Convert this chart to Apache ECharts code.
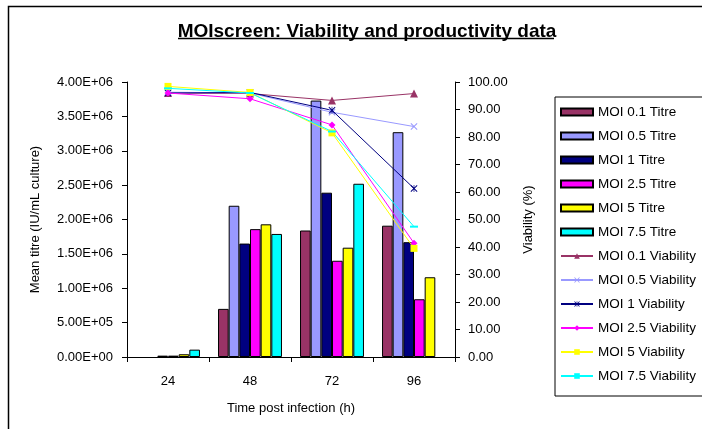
<!DOCTYPE html>
<html>
<head>
<meta charset="utf-8">
<script src="https://cdn.jsdelivr.net/npm/echarts@6/dist/echarts.min.js"></script>
<style>
html,body{margin:0;padding:0;background:#fff;}
#chart{width:702px;height:429px;}
</style>
</head>
<body>
<div id="chart"></div>
<script>
var categories = ['24', '48', '72', '96'];

var titreMOI01 = [null, 700000, 1840000, 1910000];
var titreMOI05 = [null, 2200000, 3730000, 3270000];
var titreMOI1  = [20000, 1650000, 2390000, 1670000];
var titreMOI25 = [20000, 1860000, 1400000, 840000];
var titreMOI5  = [40000, 1930000, 1590000, 1160000];
var titreMOI75 = [107000, 1790000, 2520000, null];

var viabMOI01 = [96.0, 95.8, 93.3, 95.8];
var viabMOI05 = [96.3, 96.0, 89.0, 83.8];
var viabMOI1  = [96.0, 96.2, 89.7, 61.3];
var viabMOI25 = [96.0, 93.9, 84.4, 41.4];
var viabMOI5  = [98.4, 96.2, 81.5, 39.5];
var viabMOI75 = [97.7, 96.0, 82.0, 47.4];

var titleText = 'MOIscreen: Viability and productivity data';
var xName = 'Time post infection (h)';
var yLeftName = 'Mean titre (IU/mL culture)';
var yRightName = 'Viability (%)';

var FONT = '"Liberation Sans", Arial, sans-serif';

function sci(v) {
  if (v === 0) return '0.00E+00';
  var e = Math.floor(Math.log10(Math.abs(v)) + 1e-9);
  var m = v / Math.pow(10, e);
  var es = (e < 0 ? '-' : '+') + (Math.abs(e) < 10 ? '0' : '') + Math.abs(e);
  return m.toFixed(2) + 'E' + es;
}

var X_SYM = 'path://M0,1L1,0L5,4L9,0L10,1L6,5L10,9L9,10L5,6L1,10L0,9L4,5Z';
var STAR_SYM = 'path://M0,1L1,0L4.5,3.5L4.5,0L5.5,0L5.5,3.5L9,0L10,1L6,5L10,9L9,10L5.5,6.5L5.5,10L4.5,10L4.5,6.5L1,10L0,9L4,5Z';

function bar(name, data, color) {
  return {
    name: name, type: 'bar', yAxisIndex: 0, data: data,
    barGap: '0%', barCategoryGap: '22%',
    itemStyle: { color: color, borderColor: '#000', borderWidth: 1 },
    emphasis: { disabled: true }
  };
}
function line(name, data, color, symbol, size) {
  return {
    name: name, type: 'line', yAxisIndex: 1, data: data, z: 5,
    symbol: symbol, symbolSize: size,
    lineStyle: { color: color, width: 1 },
    itemStyle: { color: color },
    emphasis: { disabled: true }
  };
}

var chart = echarts.init(document.getElementById('chart'), null, { renderer: 'canvas' });
chart.setOption({
  animation: false,
  backgroundColor: '#fff',
  title: {
    text: titleText, left: 362, top: 17, textAlign: 'center',
    textStyle: { fontFamily: FONT, fontSize: 19, fontWeight: 'bold', color: '#000' }
  },
  graphic: [
    { type: 'rect', shape: { x: 8.5, y: 6.5, width: 800, height: 500 },
      style: { fill: 'none', stroke: '#000', lineWidth: 1.5 }, silent: true, z: -1 },
    { type: 'line', shape: { x1: 178, y1: 38.5, x2: 554, y2: 38.5 },
      style: { stroke: '#000', lineWidth: 1.5 }, silent: true }
  ],
  legend: {
    orient: 'vertical', left: 555, top: 97,
    padding: [8, 12, 13, 5],
    itemGap: 10, itemWidth: 32, itemHeight: 7,
    borderColor: '#000', borderWidth: 1,
    textStyle: { fontFamily: FONT, fontSize: 13.5, color: '#000', lineHeight: 14 },
    data: [
      { name: 'MOI 0.1 Titre', icon: 'rect' },
      { name: 'MOI 0.5 Titre', icon: 'rect' },
      { name: 'MOI 1 Titre', icon: 'rect' },
      { name: 'MOI 2.5 Titre', icon: 'rect' },
      { name: 'MOI 5 Titre', icon: 'rect' },
      { name: 'MOI 7.5 Titre', icon: 'rect' },
      'MOI 0.1 Viability', 'MOI 0.5 Viability', 'MOI 1 Viability',
      'MOI 2.5 Viability', 'MOI 5 Viability', 'MOI 7.5 Viability'
    ]
  },
  grid: { left: 127, right: 247, top: 82, bottom: 72, containLabel: false },
  xAxis: {
    type: 'category', data: categories, boundaryGap: true,
    name: xName, nameLocation: 'middle', nameGap: 45,
    nameTextStyle: { fontFamily: FONT, fontSize: 13, color: '#000' },
    axisLine: { lineStyle: { color: '#000', width: 1 } },
    axisTick: { show: true, length: 5, lineStyle: { color: '#000' } },
    axisLabel: { fontFamily: FONT, fontSize: 13, color: '#000', margin: 18 },
    splitLine: { show: false }
  },
  yAxis: [
    {
      type: 'value', min: 0, max: 4000000, interval: 500000, position: 'left',
      name: yLeftName, nameLocation: 'middle', nameGap: 85, nameRotate: 90,
      nameTextStyle: { fontFamily: FONT, fontSize: 13, color: '#000' },
      axisLine: { show: true, lineStyle: { color: '#000', width: 1 } },
      axisTick: { show: true, length: 5, lineStyle: { color: '#000' } },
      axisLabel: { fontFamily: FONT, fontSize: 13, color: '#000', margin: 14, formatter: sci },
      splitLine: { show: false }
    },
    {
      type: 'value', min: 0, max: 100, interval: 10, position: 'right',
      name: yRightName, nameLocation: 'middle', nameGap: 67, nameRotate: 90,
      nameTextStyle: { fontFamily: FONT, fontSize: 13, color: '#000' },
      axisLine: { show: true, lineStyle: { color: '#000', width: 1 } },
      axisTick: { show: true, length: 5, lineStyle: { color: '#000' } },
      axisLabel: { fontFamily: FONT, fontSize: 13, color: '#000', margin: 13,
        formatter: function (v) { return v.toFixed(2); } },
      splitLine: { show: false }
    }
  ],
  series: [
    bar('MOI 0.1 Titre', titreMOI01, '#993366'),
    bar('MOI 0.5 Titre', titreMOI05, '#9999FF'),
    bar('MOI 1 Titre', titreMOI1, '#000080'),
    bar('MOI 2.5 Titre', titreMOI25, '#FF00FF'),
    bar('MOI 5 Titre', titreMOI5, '#FFFF00'),
    bar('MOI 7.5 Titre', titreMOI75, '#00FFFF'),
    line('MOI 0.1 Viability', viabMOI01, '#993366', 'triangle', 8),
    line('MOI 0.5 Viability', viabMOI05, '#9999FF', X_SYM, 7),
    line('MOI 1 Viability', viabMOI1, '#000080', STAR_SYM, 7),
    line('MOI 2.5 Viability', viabMOI25, '#FF00FF', 'diamond', 7),
    line('MOI 5 Viability', viabMOI5, '#FFFF00', 'rect', 7),
    line('MOI 7.5 Viability', viabMOI75, '#00FFFF', 'rect', [8, 2])
  ]
});
</script>
</body>
</html>
